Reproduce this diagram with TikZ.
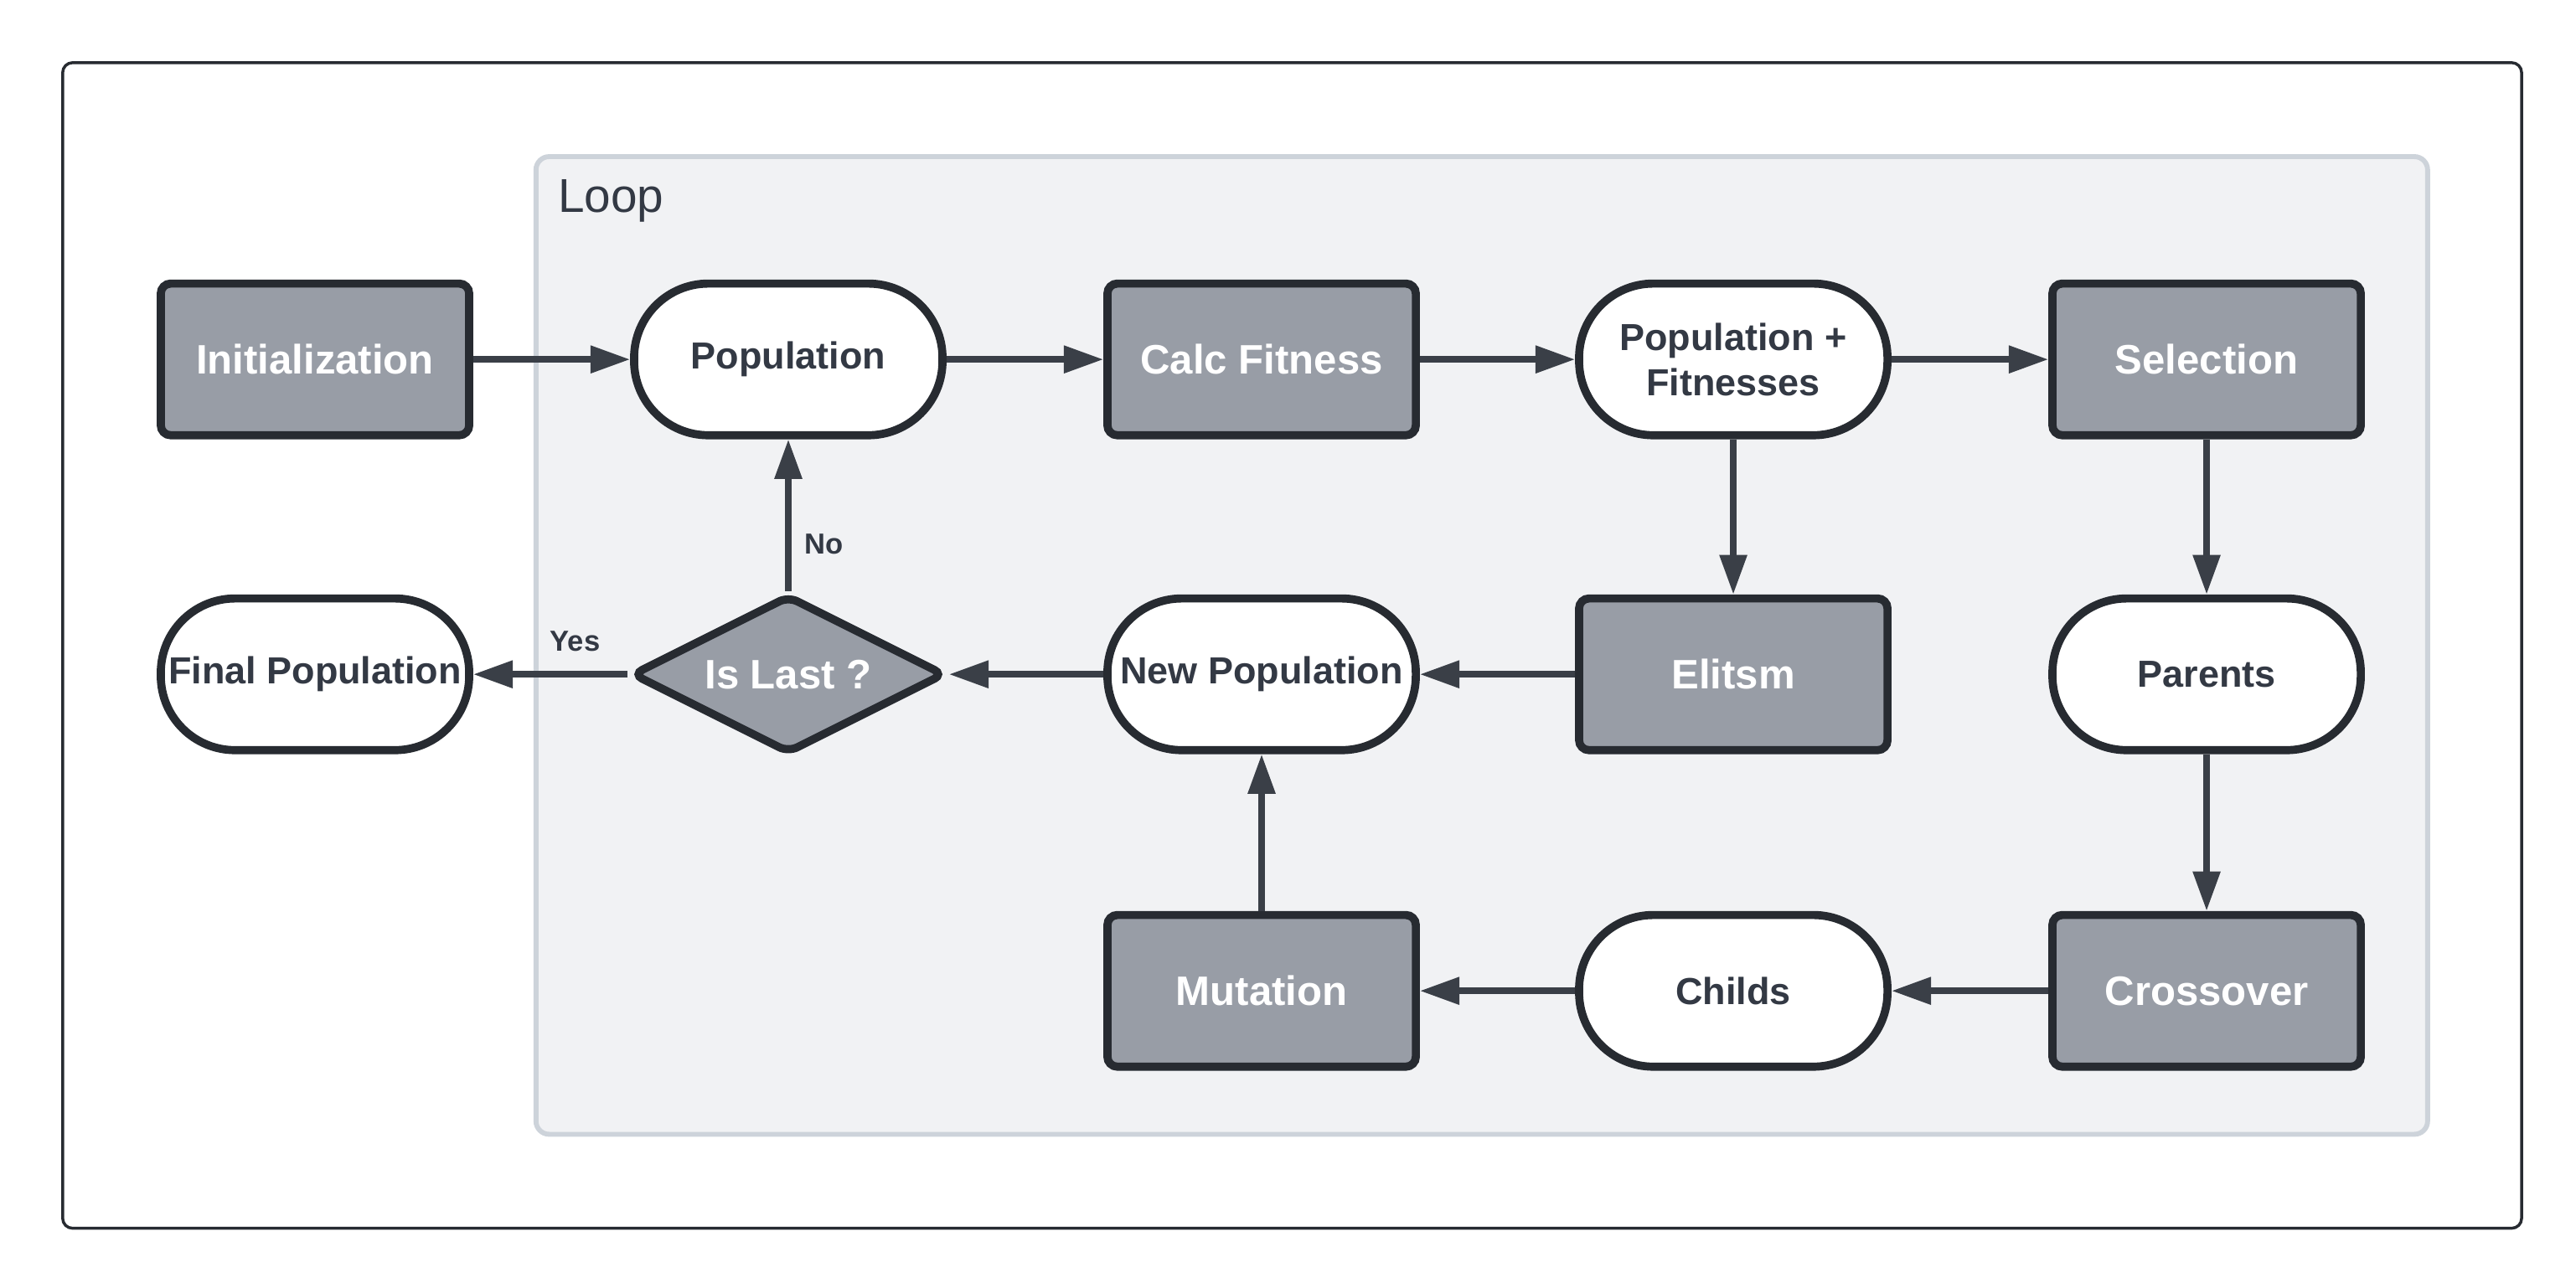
\documentclass[tikz,border=0pt]{standalone}
\usepackage{fontspec}
\setmainfont{Liberation Sans}
\usetikzlibrary{shapes.geometric,arrows.meta}

\definecolor{edgedark}{HTML}{3A3F47}
\definecolor{borderdark}{HTML}{272B31}
\definecolor{boxgray}{HTML}{989DA6}
\definecolor{textdark}{HTML}{333944}
\definecolor{loopfill}{HTML}{F1F2F4}
\definecolor{loopline}{HTML}{CDD3DA}

\tikzset{
  base/.style={draw=borderdark, line width=1.4pt, minimum width=1.87cm,
    minimum height=0.92cm, inner sep=0pt, align=center},
  process/.style={base, rectangle, rounded corners=0.06cm, fill=boxgray,
    text=white, font=\bfseries\fontsize{7.1}{8.5}\selectfont},
  data/.style={base, rectangle, rounded corners=0.45cm, fill=white,
    text=textdark, font=\bfseries\fontsize{6.5}{7.8}\selectfont},
  decision/.style={process, diamond, shape aspect=2, minimum width=1.9cm,
    minimum height=0.96cm},
  flow/.style={draw=edgedark, line width=1.1pt,
    -{Triangle[length=0.24cm,width=0.16cm]}},
  tag/.style={text=textdark, font=\bfseries\fontsize{5}{6}\selectfont}
}

\begin{document}
\begin{tikzpicture}
      \useasboundingbox (0,0) rectangle (15.62,7.81);
      \draw[draw=borderdark, line width=0.5pt, rounded corners=0.06cm]
        (0.38,0.36) rectangle (15.29,7.43);
      \draw[fill=loopfill, draw=loopline, line width=0.85pt, rounded corners=0.08cm]
        (3.25,0.93) rectangle (14.72,6.86);
      \node[anchor=base west, text=textdark, font=\fontsize{8.2}{9}\selectfont]
        (looplabel) at (3.26,6.52) {Loop};
      \draw
        (1.91,5.63) node[process] (init){Initialization}
        (4.78,5.63) node[data] (pop){Population}
        (7.65,5.63) node[process] (calc){Calc Fitness}
        (10.51,5.63) node[data] (popfit){Population +\\Fitnesses}
        (13.38,5.63) node[process] (select){Selection}
        (1.91,3.72) node[data] (final){Final Population}
        (4.78,3.72) node[decision] (islast){Is Last ?}
        (7.65,3.72) node[data] (newpop){New Population}
        (10.51,3.72) node[process] (elit){Elitsm}
        (13.38,3.72) node[data] (parents){Parents}
        (7.65,1.80) node[process] (mut){Mutation}
        (10.51,1.80) node[data] (childs){Childs}
        (13.38,1.80) node[process] (cross){Crossover};
      \begin{scope}[flow]
        \draw (init) to (pop);
        \draw (pop) to (calc);
        \draw (calc) to (popfit);
        \draw (popfit) to (select);
        \draw (popfit) to (elit);
        \draw (select) to (parents);
        \draw (parents) to (cross);
        \draw (cross) to (childs);
        \draw (childs) to (mut);
        \draw (mut) to (newpop);
        \draw (elit) to (newpop);
        \draw (newpop) to (islast);
        \draw (islast) to node[tag, right=-1pt, pos=0.31] (no){No} (pop);
        \draw (islast) to node[tag, above=0pt, pos=0.34] (yes){Yes} (final);
      \end{scope}
    \end{tikzpicture}
\end{document}
